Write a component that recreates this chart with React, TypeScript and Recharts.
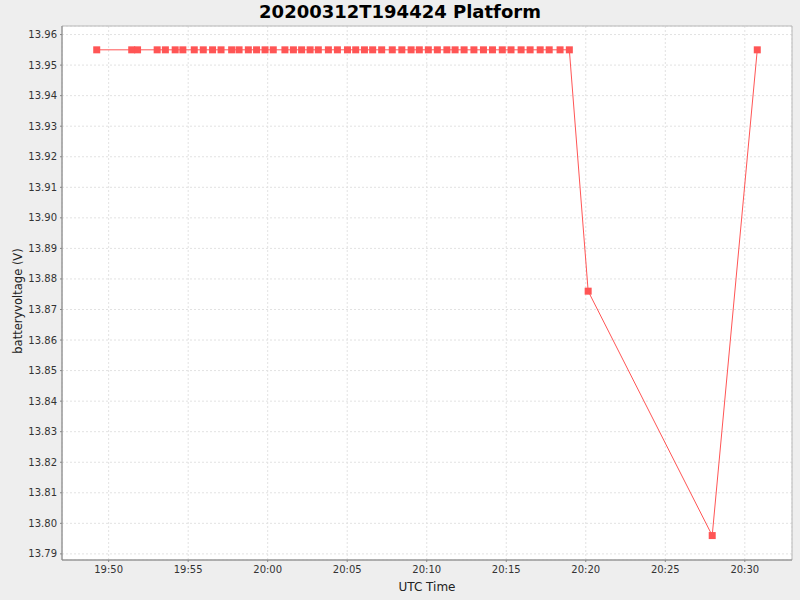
import { LineChart, Line, XAxis, YAxis, CartesianGrid, ReferenceArea, Label } from "recharts"

// sample times (UTC) and battery voltage readings
const times = [
  "19:49:15", "19:51:27", "19:51:49", "19:53:03", "19:53:34", "19:54:11", "19:54:40", "19:55:23",
  "19:55:57", "19:56:32", "19:57:04", "19:57:44", "19:58:12", "19:58:47", "19:59:18", "19:59:50",
  "20:00:21", "20:01:05", "20:01:37", "20:02:08", "20:02:40", "20:03:11", "20:03:49", "20:04:23",
  "20:05:01", "20:05:32", "20:06:05", "20:06:36", "20:07:10", "20:07:50", "20:08:26", "20:09:01",
  "20:09:32", "20:10:06", "20:10:40", "20:11:16", "20:11:47", "20:12:21", "20:12:58", "20:13:34",
  "20:14:08", "20:14:45", "20:15:18", "20:15:56", "20:16:30", "20:17:08", "20:17:42", "20:18:23",
  "20:18:58", "20:20:09", "20:27:57", "20:30:47",
]
const voltages = [
  13.955, 13.955, 13.955, 13.955, 13.955, 13.955, 13.955, 13.955,
  13.955, 13.955, 13.955, 13.955, 13.955, 13.955, 13.955, 13.955,
  13.955, 13.955, 13.955, 13.955, 13.955, 13.955, 13.955, 13.955,
  13.955, 13.955, 13.955, 13.955, 13.955, 13.955, 13.955, 13.955,
  13.955, 13.955, 13.955, 13.955, 13.955, 13.955, 13.955, 13.955,
  13.955, 13.955, 13.955, 13.955, 13.955, 13.955, 13.955, 13.955,
  13.955, 13.876, 13.796, 13.955,
]
const xTickLabels = ["19:50", "19:55", "20:00", "20:05", "20:10", "20:15", "20:20", "20:25", "20:30"]
const yTicks = [
  13.79, 13.8, 13.81, 13.82, 13.83, 13.84, 13.85, 13.86, 13.87,
  13.88, 13.89, 13.9, 13.91, 13.92, 13.93, 13.94, 13.95, 13.96,
]
const xRange = ["19:47:04", "20:32:58"]
const yRange = [13.788, 13.9628]

const toSec = (t: string) => {
  const [h, m, s = 0] = t.split(":").map(Number)
  return h * 3600 + m * 60 + s
}
const fmtTime = (v: number) => {
  const h = Math.floor(v / 3600)
  const m = Math.floor((v % 3600) / 60)
  return `${String(h).padStart(2, "0")}:${String(m).padStart(2, "0")}`
}

const data = times.map((t, i) => ({ t: toSec(t), v: voltages[i] }))
const xDomain = xRange.map(toSec)
const xTicks = xTickLabels.map(toSec)

const FONT = '"DejaVu Sans", sans-serif'
const RED = "#ff5555"

const SquareDot = (props: any) => {
  const { cx, cy } = props
  if (cx == null || cy == null) return null
  return <rect x={cx - 3.5} y={cy - 3.5} width={7} height={7} fill={RED} />
}

const YTitle = (props: any) => {
  const vb = props.viewBox
  const x = vb.x + 8
  const y = vb.y + vb.height / 2 + 8
  return (
    <text x={x} y={y} transform={`rotate(-90 ${x} ${y})`} textAnchor="middle" dominantBaseline="central"
      fontSize={11.5} fontFamily={FONT} fill="#222">
      batteryvoltage (V)
    </text>
  )
}

export default function App() {
  return (
    <div style={{ position: "absolute", left: 0, top: 0, width: 800, height: 600, background: "#eeeeee", fontFamily: FONT }}>
      <div style={{ position: "absolute", left: 0, top: 1, width: 800, textAlign: "center", fontWeight: "bold", fontSize: 18, color: "#000", zIndex: 2 }}>
        20200312T194424 Platform
      </div>
      <LineChart width={800} height={600} data={data} margin={{ top: 26, right: 8, bottom: 0, left: 10 }}>
        <CartesianGrid fill="#ffffff" stroke="#e2e2e2" strokeDasharray="2 2" />
        <XAxis dataKey="t" type="number" domain={xDomain} ticks={xTicks} tickFormatter={fmtTime}
          allowDataOverflow height={40} tickSize={2} tickMargin={4} interval={0}
          stroke="#888" tick={{ fontSize: 10, fontFamily: FONT, fill: "#333" }}>
          <Label value="UTC Time" position="insideBottom" offset={9} fontSize={12} fontFamily={FONT} fill="#222" />
        </XAxis>
        <YAxis type="number" domain={yRange} ticks={yTicks} allowDataOverflow width={52} tickSize={2} tickMargin={3}
          interval={0} stroke="#888" tickFormatter={(v: number) => v.toFixed(2)}
          tick={{ fontSize: 10, fontFamily: FONT, fill: "#333" }}>
          <Label content={<YTitle />} />
        </YAxis>
        <ReferenceArea x1={xDomain[0]} x2={xDomain[1]} y1={yRange[0]} y2={yRange[1]} fill="none" stroke="#b8b8b8" />
        <Line type="linear" dataKey="v" stroke={RED} strokeWidth={1} dot={<SquareDot />} activeDot={false} isAnimationActive={false} />
      </LineChart>
    </div>
  )
}
